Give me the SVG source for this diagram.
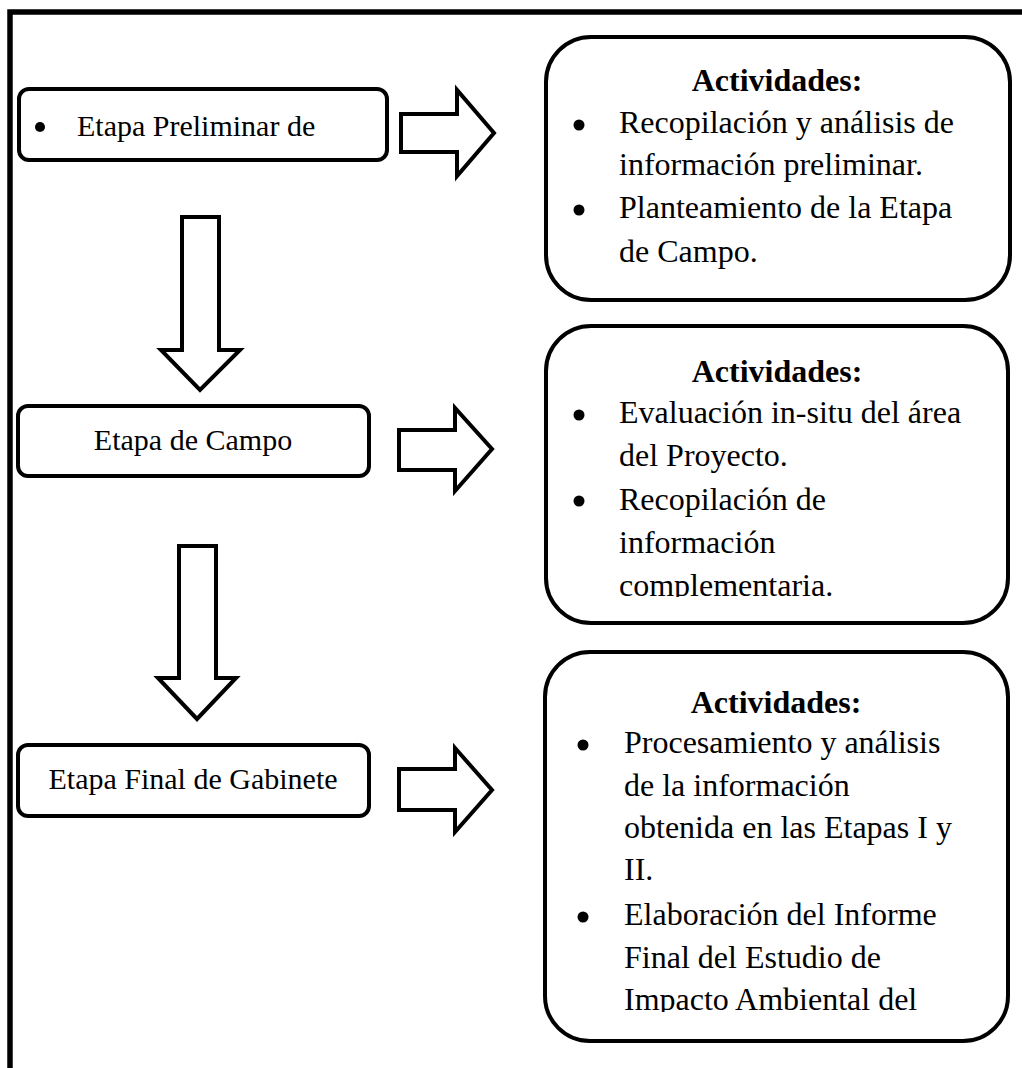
<svg xmlns="http://www.w3.org/2000/svg" width="1022" height="1068" viewBox="0 0 1022 1068">
<defs>
<style>
.frame{fill:none;stroke:#000;stroke-width:5.5}
.box{fill:#fff;stroke:#000;stroke-width:4}
.arr{fill:#fff;stroke:#000;stroke-width:4;stroke-linejoin:miter}
.t{font-family:"Liberation Serif","Times New Roman",serif;font-size:30px;fill:#000}
.r{font-family:"Liberation Serif","Times New Roman",serif;font-size:32px;fill:#000}
.h{font-family:"Liberation Serif","Times New Roman",serif;font-size:32px;font-weight:bold;fill:#000;text-anchor:middle}
.bul{fill:#000}
</style>
<clipPath id="clipB"><rect x="540" y="320" width="480" height="277"/></clipPath>
<clipPath id="clipC"><rect x="540" y="645" width="480" height="367"/></clipPath>
</defs>
<rect width="1022" height="1068" fill="#fff"/>
<g id="frame">
<path class="frame" d="M10,1068 V12 H1022"/>
</g>
<g id="connectors">
<path class="arr" d="M401,114 H457 V90 L494,133 L457,176 V152 H401 Z"/>
<path class="arr" d="M399,430 H455 V408 L492,449 L455,491 V470 H399 Z"/>
<path class="arr" d="M399,769 H455 V748 L492,790 L455,832 V810 H399 Z"/>
<path class="arr" d="M182,217 H219 V350 H240 L200,390 L161,350 H182 Z"/>
<path class="arr" d="M179,546 H216 V678 H236 L197,719 L158,678 H179 Z"/>
</g>
<g id="stage1">
<rect class="box" x="19" y="89" width="368" height="71" rx="10"/>
<circle class="bul" cx="40" cy="127" r="5"/>
<text class="t" x="77" y="136">Etapa Preliminar de</text>
</g>
<g id="stage2">
<rect class="box" x="18" y="406" width="351" height="70" rx="10"/>
<text class="t" x="193" y="450" text-anchor="middle">Etapa de Campo</text>
</g>
<g id="stage3">
<rect class="box" x="18" y="745" width="351" height="71" rx="10"/>
<text class="t" x="193" y="789" text-anchor="middle">Etapa Final de Gabinete</text>
</g>
<g id="act1">
<rect class="box" x="546" y="37" width="464" height="263" rx="45"/>
<text class="h" x="777" y="91">Actividades:</text>
<circle class="bul" cx="579" cy="125" r="5.5"/>
<text class="r" x="619" y="133">Recopilación y análisis de</text>
<text class="r" x="619" y="175">información preliminar.</text>
<circle class="bul" cx="579" cy="210" r="5.5"/>
<text class="r" x="619" y="218">Planteamiento de la Etapa</text>
<text class="r" x="619" y="262">de Campo.</text>
</g>
<g id="act2">
<rect class="box" x="546" y="326" width="462" height="297" rx="45"/>
<text class="h" x="777" y="382">Actividades:</text>
<g clip-path="url(#clipB)">
<circle class="bul" cx="579" cy="415" r="5.5"/>
<text class="r" x="619" y="423">Evaluación in-situ del área</text>
<text class="r" x="619" y="466">del Proyecto.</text>
<circle class="bul" cx="579" cy="501" r="5.5"/>
<text class="r" x="619" y="510">Recopilación de</text>
<text class="r" x="619" y="553">información</text>
<text class="r" x="619" y="596">complementaria.</text>
</g>
</g>
<g id="act3">
<rect class="box" x="545" y="652" width="463" height="389" rx="45"/>
<text class="h" x="776" y="713">Actividades:</text>
<g clip-path="url(#clipC)">
<circle class="bul" cx="583" cy="745" r="5.5"/>
<text class="r" x="624" y="753">Procesamiento y análisis</text>
<text class="r" x="624" y="796">de la información</text>
<text class="r" x="624" y="838">obtenida en las Etapas I y</text>
<text class="r" x="624" y="880">II.</text>
<circle class="bul" cx="583" cy="917" r="5.5"/>
<text class="r" x="624" y="925">Elaboración del Informe</text>
<text class="r" x="624" y="968">Final del Estudio de</text>
<text class="r" x="624" y="1010">Impacto Ambiental del</text>
</g>
</g>
</svg>
